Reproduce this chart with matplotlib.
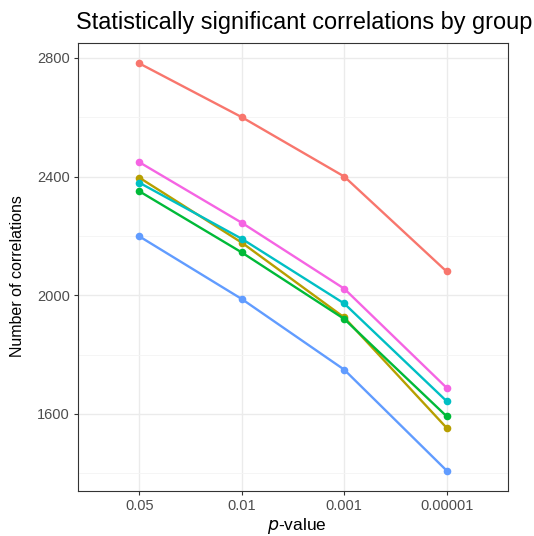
import matplotlib
matplotlib.use("Agg")
import matplotlib.pyplot as plt

plt.rcParams['font.family'] = ['Liberation Sans', 'DejaVu Sans']

# === Data ===
p_labels = ["0.05", "0.01", "0.001", "0.00001"]
group_a = [2781, 2600, 2400, 2080]   # red
group_b = [2396, 2177, 1925, 1553]   # olive
group_c = [2350, 2144, 1920, 1592]   # green
group_d = [2379, 2190, 1972, 1643]   # cyan
group_e = [2198, 1987, 1749, 1409]   # blue
group_f = [2448, 2244, 2022, 1688]   # pink

series = [group_a, group_b, group_c, group_d, group_e, group_f]
colors = ["#F8766D", "#B79F00", "#00BA38", "#00BFC4", "#619CFF", "#F564E3"]

# === Figure ===
W, H = 534, 536
fig = plt.figure(figsize=(W / 100, H / 100), dpi=100)
ax = fig.add_axes([78 / W, 1 - 491 / H, 430 / W, 448 / H])

x = range(len(p_labels))
for vals, col in zip(series, colors):
    ax.plot(x, vals, color=col, linewidth=1.7, marker='o', markersize=5.5,
            markeredgewidth=0, zorder=3)

ax.set_xlim(-0.6, 3.6)
ax.set_ylim(1340, 2850)
ax.set_xticks(list(x))
ax.set_xticklabels(p_labels)
ax.set_yticks([1600, 2000, 2400, 2800])
ax.set_yticks([1400, 1800, 2200, 2600], minor=True)

ax.grid(True, which='major', color='#EBEBEB', linewidth=1.0, zorder=0)
ax.grid(True, which='minor', axis='y', color='#F4F4F4', linewidth=0.6, zorder=0)
ax.set_axisbelow(True)

for s in ax.spines.values():
    s.set_color('#333333')
    s.set_linewidth(0.8)

ax.tick_params(which='major', length=3, width=0.8, color='#333333',
               labelcolor='#4D4D4D', labelsize=10.5, pad=3)
ax.tick_params(which='minor', length=0)

# axis titles
fig.text(18 / W, 1 - 276 / H, "Number of correlations", rotation=90,
         fontsize=11.5, ha='center', va='center')
fig.text(297 / W, 1 - 530 / H, "$p$-value", fontsize=12.5,
         ha='center', va='baseline')

fig.text(76 / W, 1 - 29 / H, "Statistically significant correlations by group",
         fontsize=16.9, ha='left', va='baseline')

fig.savefig("out.png", dpi=100)
